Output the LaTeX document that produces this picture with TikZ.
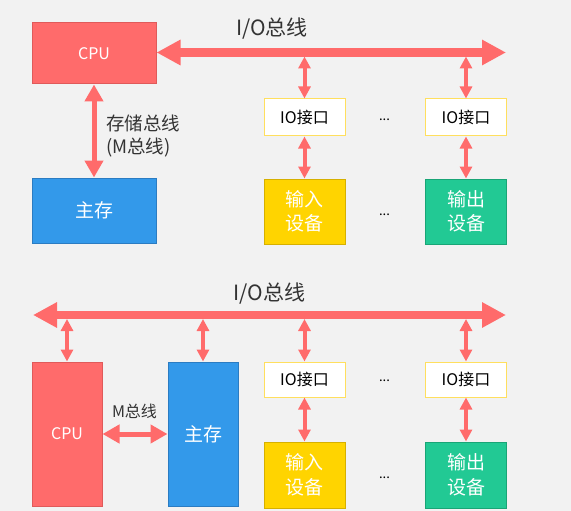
\documentclass[tikz,border=0pt]{standalone}
\usepackage{fontspec}
\setmainfont{Noto Sans CJK SC}
\usetikzlibrary{arrows.meta}
\definecolor{bgcol}{HTML}{F2F2F2}
\definecolor{buscol}{HTML}{FF6B6B}
\definecolor{cpucol}{HTML}{FF6B6B}
\definecolor{cpuline}{HTML}{E05A5A}
\definecolor{memcol}{HTML}{3399EA}
\definecolor{memline}{HTML}{2B7CC2}
\definecolor{incol}{HTML}{FFD400}
\definecolor{inline}{HTML}{D6B000}
\definecolor{outcol}{HTML}{22C994}
\definecolor{outline}{HTML}{19A576}
\definecolor{ioline}{HTML}{FFDF5E}
\definecolor{txtcol}{HTML}{333333}

\begin{document}
\begin{tikzpicture}[x=1pt,y=-1pt,
    box/.style={draw,line width=1pt,minimum width=#1,inner sep=0pt,text=white},
    cpubox/.style={box=#1,fill=cpucol,draw=cpuline},
    membox/.style={box=#1,fill=memcol,draw=memline},
    iobox/.style={box=81pt,fill=white,draw=ioline,minimum height=37pt,text=black,font=\fontsize{16}{18}\selectfont},
    inbox/.style={box=81pt,fill=incol,draw=inline,align=center,font=\fontsize{19}{24.5}\selectfont},
    outbox/.style={box=81pt,fill=outcol,draw=outline,align=center,font=\fontsize{19}{24.5}\selectfont},
    bigbus/.style={draw=buscol,line width=8.5pt,{Triangle[length=24pt,width=24pt]}-{Triangle[length=24pt,width=24pt]}},
    midbus/.style={draw=buscol,line width=5pt,{Triangle[length=17pt,width=18pt]}-{Triangle[length=17pt,width=18pt]}},
    smallbus/.style={draw=buscol,line width=4pt,{Triangle[length=12pt,width=12pt]}-{Triangle[length=12pt,width=12pt]}},
    lbl/.style={text=txtcol,inner sep=0pt},
    dots/.style={text=black,font=\fontsize{13}{15}\selectfont}]
    % canvas
    \fill[bgcol] (0,0) rectangle (571,511);
    \useasboundingbox (0,0) rectangle (571,511);

    % ---- upper picture: CPU on a separate memory bus ----
    \node[cpubox=124pt,minimum height=61pt,font=\fontsize{16}{18}\selectfont] (cpua) at (94,53.5) {CPU};
    \node[membox=124pt,minimum height=65pt,font=\fontsize{19}{21}\selectfont] (mema) at (94,210.5) {主存};
    \node[iobox] (ioa1) at (304.5,117.5) {IO接口};
    \node[iobox] (ioa2) at (466,117.5) {IO接口};
    \node[inbox,minimum height=65pt] (ina) at (304.5,211.5) {输入\\设备};
    \node[outbox,minimum height=65pt] (outa) at (466,211.5) {输出\\设备};
    \node[dots] at (384.5,120) {...};
    \node[dots] at (384.5,215) {...};
    \coordinate (busaend) at (506,52.5);
    \node[lbl,font=\fontsize{21}{23}\selectfont] (busalbl) at (272,29) {I/O总线};
    \draw[bigbus] (cpua.east |- busaend) -- (busaend);
    \draw[midbus] (cpua.south) -- (mema.north);
    \node[lbl,align=left,font=\fontsize{18.5}{23}\selectfont] (mbusa) at (143,136) {存储总线\\(M总线)};
    \draw[smallbus,shorten <=4pt] (ioa1.north |- busaend) -- (ioa1.north);
    \draw[smallbus,shorten <=4pt] (ioa2.north |- busaend) -- (ioa2.north);
    \draw[smallbus] (ioa1.south) -- (ina.north);
    \draw[smallbus] (ioa2.south) -- (outa.north);

    % ---- lower picture: everything on the I/O bus ----
    \coordinate (busbstart) at (33,315);
    \coordinate (busbend) at (506,315);
    \node[lbl,font=\fontsize{21}{23}\selectfont] (busblbl) at (269.5,294) {I/O总线};
    \draw[bigbus] (busbstart) -- (busbend);
    \node[cpubox=70pt,minimum height=144pt,font=\fontsize{16}{18}\selectfont] (cpub) at (67,434) {CPU};
    \node[membox=70pt,minimum height=144pt,font=\fontsize{19}{21}\selectfont] (memb) at (203,434) {主存};
    \node[iobox,minimum height=35pt] (iob1) at (304.5,379.5) {IO接口};
    \node[iobox,minimum height=35pt] (iob2) at (466,379.5) {IO接口};
    \node[inbox,minimum height=66pt] (inb) at (304.5,475) {输入\\设备};
    \node[outbox,minimum height=66pt] (outb) at (466,475) {输出\\设备};
    \node[dots] at (384.5,381) {...};
    \node[dots] at (384.5,478) {...};
    \foreach \n in {cpub,memb,iob1,iob2}
        \draw[smallbus,shorten <=4pt] (\n.north |- busbstart) -- (\n.north);
    \draw[smallbus] (iob1.south) -- (inb.north);
    \draw[smallbus] (iob2.south) -- (outb.north);
    \draw[midbus] (cpub.east |- 0,434) -- (memb.west |- 0,434);
    \node[lbl,font=\fontsize{16}{18}\selectfont] (mbusb) at (134.5,411.5) {M总线};
\end{tikzpicture}
\end{document}
